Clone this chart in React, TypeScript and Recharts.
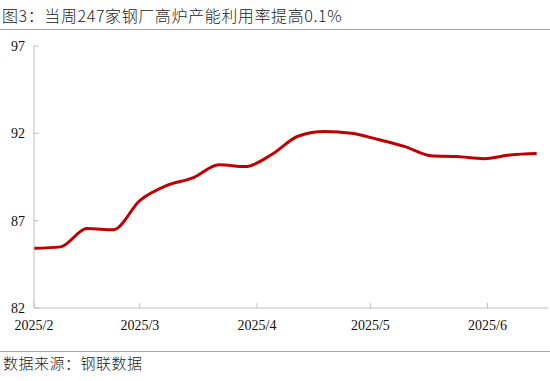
import { Line, LineChart, XAxis, YAxis } from "recharts";

const weeks = [
  "2025-02-01", "2025-02-08", "2025-02-15", "2025-02-22", "2025-03-01",
  "2025-03-08", "2025-03-15", "2025-03-22", "2025-03-29", "2025-04-05",
  "2025-04-12", "2025-04-19", "2025-04-26", "2025-05-03", "2025-05-10",
  "2025-05-17", "2025-05-24", "2025-05-31", "2025-06-07", "2025-06-14",
];
const utilization = [
  85.42, 85.5, 86.55, 86.48, 88.15, 89.0, 89.45, 90.2, 90.1, 90.8,
  91.85, 92.1, 92.0, 91.65, 91.25, 90.72, 90.67, 90.55, 90.76, 90.84,
];
const monthStarts = ["2025-02-01", "2025-03-01", "2025-04-01", "2025-05-01", "2025-06-01"];
const monthLabels = ["2025/2", "2025/3", "2025/4", "2025/5", "2025/6"];
const yTicks = [82, 87, 92, 97];

const DAY = 24 * 3600 * 1000;
const origin = Date.parse(monthStarts[0]);
const toDay = (s: string) => Math.round((Date.parse(s) - origin) / DAY);

const data = weeks.map((w, i) => ({ day: toDay(w), value: utilization[i] }));
const xTicks = monthStarts.map(toDay);
const labelOf = (d: number) => monthLabels[xTicks.indexOf(d)] ?? "";

const cjk = '"Noto Sans CJK SC", "Noto Sans", sans-serif';
const serif = '"Liberation Serif", "DejaVu Serif", serif';

export default function App() {
  return (
    <div
      style={{
        position: "absolute",
        left: 0,
        top: 0,
        width: 550,
        height: 381,
        background: "#fff",
        overflow: "hidden",
      }}
    >
      <div
        style={{
          position: "absolute",
          left: 2,
          top: 4,
          fontFamily: cjk,
          fontSize: 16,
          fontWeight: 300,
          lineHeight: "22px",
          color: "#222",
          letterSpacing: 0.6,
          whiteSpace: "nowrap",
        }}
      >
        图3：当周247家钢厂高炉产能利用率提高0.1%
      </div>
      <div style={{ position: "absolute", left: 0, top: 29, width: 550, height: 1, background: "#8eaadb" }} />

      <div style={{ position: "absolute", left: 0, top: 0 }}>
        <LineChart width={550} height={381} data={data} margin={{ top: 46, right: 2, bottom: 0, left: 0 }}>
          <XAxis
            dataKey="day"
            type="number"
            domain={[0, 136]}
            ticks={xTicks}
            tickFormatter={labelOf}
            stroke="#bfbfbf"
            tickSize={-5}
            tickMargin={17}
            height={73}
            interval={0}
            tick={{ fill: "#111", fontSize: 14, fontFamily: serif }}
          />
          <YAxis
            type="number"
            domain={[82, 97]}
            ticks={yTicks}
            width={34}
            stroke="#bfbfbf"
            tickSize={-5}
            tickMargin={14}
            interval={0}
            tick={{ fill: "#111", fontSize: 14, fontFamily: serif }}
          />
          <Line
            type="monotone"
            dataKey="value"
            stroke="#c00000"
            strokeWidth={3}
            dot={false}
            isAnimationActive={false}
          />
        </LineChart>
      </div>

      <div style={{ position: "absolute", left: 0, top: 351, width: 550, height: 1, background: "#8eaadb" }} />
      <div
        style={{
          position: "absolute",
          left: 3,
          top: 353,
          fontFamily: cjk,
          fontSize: 15,
          fontWeight: 300,
          lineHeight: "20px",
          color: "#222",
          letterSpacing: 0.5,
          whiteSpace: "nowrap",
        }}
      >
        数据来源：钢联数据
      </div>
    </div>
  );
}
